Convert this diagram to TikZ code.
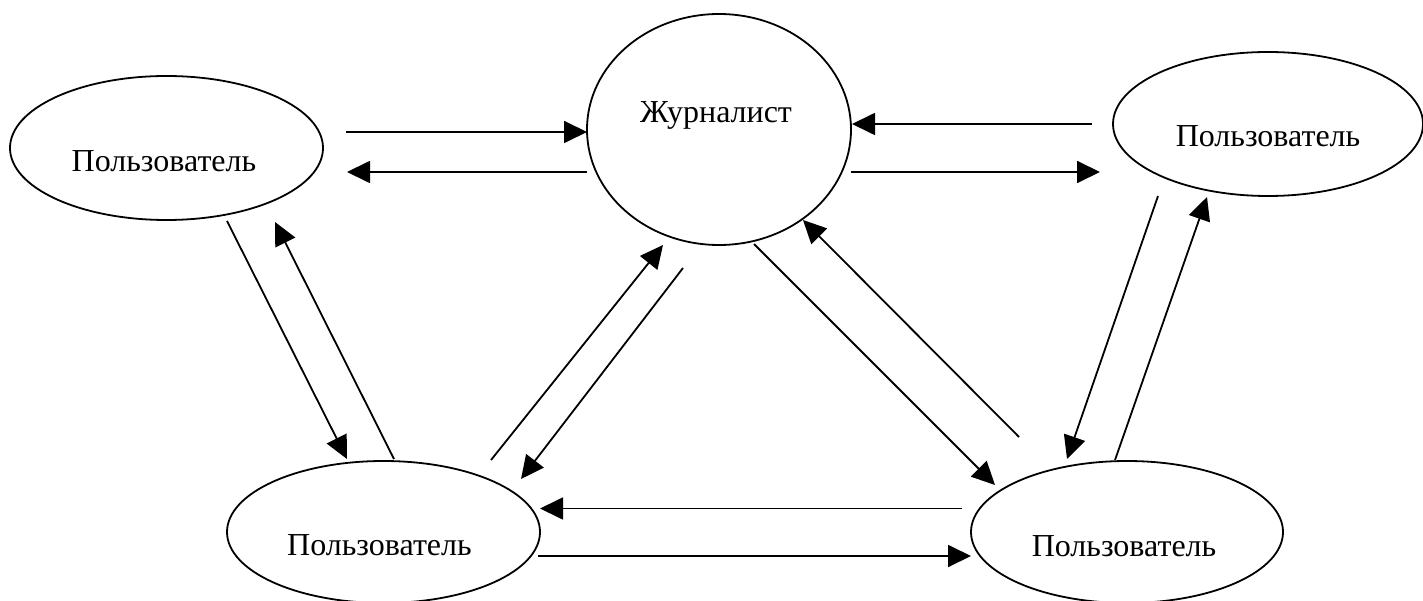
\documentclass[tikz,border=0pt]{standalone}
\usepackage{fontspec}
\setmainfont{Liberation Serif}
\usetikzlibrary{shapes.geometric,arrows.meta}
\tikzset{
  ell/.style={draw, ellipse, line width=1.8pt, inner sep=0pt, outer sep=0pt},
  lbl/.style={anchor=base, inner sep=0pt, font=\fontsize{32}{36}\selectfont},
  conn/.style={line width=1.8pt, -{Triangle[length=23pt,width=22pt]}}
}
\begin{document}
\begin{tikzpicture}[x=1pt,y=-1pt]
\useasboundingbox (0,0) rectangle (1423,601);
% ellipses
\node[ell, minimum width=313pt, minimum height=144pt] (tl) at (166.5,148) {};
\node[ell, minimum width=264pt, minimum height=231pt] (j) at (719,129.5) {};
\node[ell, minimum width=310pt, minimum height=144pt] (tr) at (1268,124) {};
\node[ell, minimum width=313pt, minimum height=142pt] (bl) at (383.5,532) {};
\node[ell, minimum width=312pt, minimum height=142pt] (br) at (1127,532) {};
% labels
\node[lbl] (tlt) at (164,172) {Пользователь};
\node[lbl] (jt) at (716,123) {Журналист};
\node[lbl] (trt) at (1268,147) {Пользователь};
\node[lbl] (blt) at (379.5,555) {Пользователь};
\node[lbl] (brt) at (1124,556) {Пользователь};
% connector end points
\coordinate (p1s) at (346,132);  \coordinate (p1e) at (587,132);
\coordinate (p2s) at (587,172);  \coordinate (p2e) at (347,172);
\coordinate (p3s) at (1092,124); \coordinate (p3e) at (852,124);
\coordinate (p4s) at (851,172);  \coordinate (p4e) at (1100,172);
\coordinate (p5s) at (227,221);  \coordinate (p5e) at (347,459);
\coordinate (p6s) at (394,459);  \coordinate (p6e) at (275,222);
\coordinate (p7s) at (491,460);  \coordinate (p7e) at (663,245);
\coordinate (p8s) at (683,268);  \coordinate (p8e) at (521,479);
\coordinate (p9s) at (754,244);  \coordinate (p9e) at (995,485);
\coordinate (p10s) at (1019,437); \coordinate (p10e) at (803,220);
\coordinate (p11s) at (1158,196); \coordinate (p11e) at (1067,459);
\coordinate (p12s) at (1115,460); \coordinate (p12e) at (1207,197);
\coordinate (p13s) at (962,508.5); \coordinate (p13e) at (540,508.5);
\coordinate (p14s) at (538,556); \coordinate (p14e) at (971,556);
% connectors
\foreach \i in {1,...,14}{
  \draw[conn] (p\i s) -- (p\i e);
}
\end{tikzpicture}
\end{document}
